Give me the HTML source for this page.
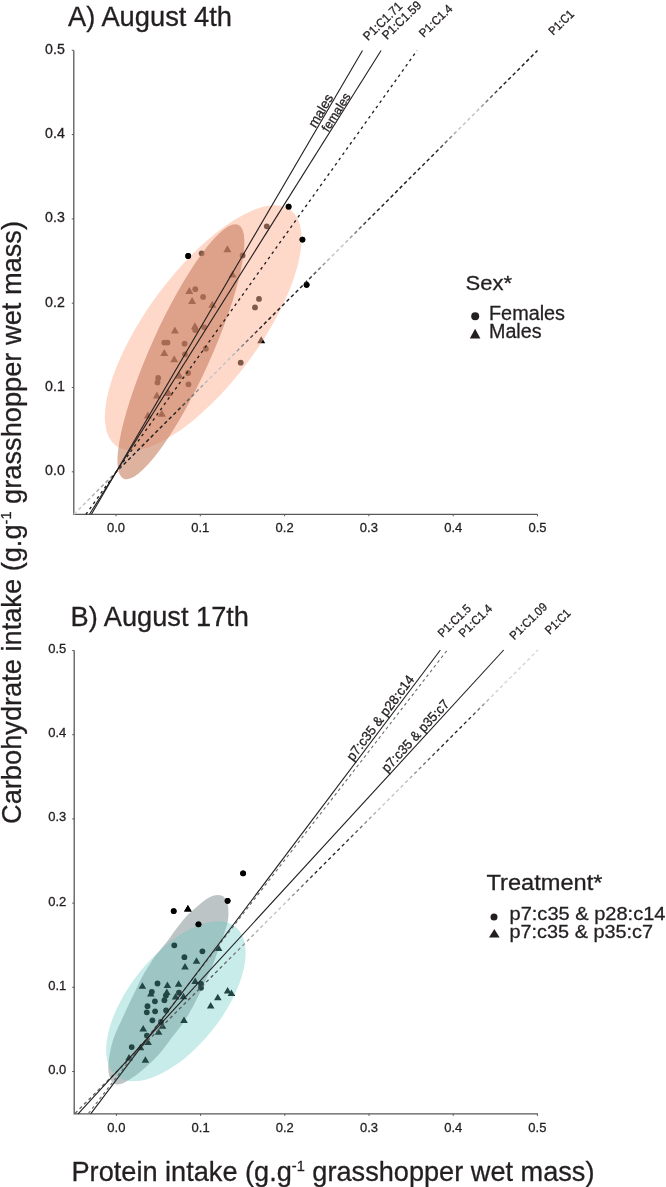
<!DOCTYPE html><html><head><meta charset="utf-8"><style>html,body{margin:0;padding:0;background:#fff;overflow:hidden}svg{display:block;will-change:transform}</style></head><body>
<svg width="666" height="1187" viewBox="0 0 666 1187" font-family='"Liberation Sans", sans-serif' fill="#231f20"><style>text{stroke:#231f20;stroke-width:0.3px}</style>
<text x="68" y="25.8" font-size="27" textLength="164" lengthAdjust="spacingAndGlyphs">A) August 4th</text>
<text x="70.5" y="625.7" font-size="27" textLength="178.5" lengthAdjust="spacingAndGlyphs">B) August 17th</text>
<circle cx="201.6" cy="253.4" r="2.9" fill="#000"/><circle cx="266.8" cy="226.3" r="2.9" fill="#000"/><circle cx="242.6" cy="255.5" r="2.9" fill="#000"/><circle cx="195.3" cy="289.2" r="2.9" fill="#000"/><circle cx="203.1" cy="296.9" r="2.9" fill="#000"/><circle cx="259" cy="298.9" r="2.9" fill="#000"/><circle cx="255" cy="307.4" r="2.9" fill="#000"/><circle cx="195.2" cy="330" r="2.9" fill="#000"/><circle cx="204.2" cy="327.3" r="2.9" fill="#000"/><circle cx="164.3" cy="342.6" r="2.9" fill="#000"/><circle cx="167.5" cy="342.6" r="2.9" fill="#000"/><circle cx="184.6" cy="343.7" r="2.9" fill="#000"/><circle cx="185" cy="354.3" r="2.9" fill="#000"/><circle cx="205.8" cy="348.7" r="2.9" fill="#000"/><circle cx="240.7" cy="362.7" r="2.9" fill="#000"/><circle cx="188.1" cy="373" r="2.9" fill="#000"/><circle cx="158.2" cy="378" r="2.9" fill="#000"/><circle cx="157.5" cy="382.5" r="2.9" fill="#000"/><circle cx="188.5" cy="384.3" r="2.9" fill="#000"/><circle cx="188.2" cy="256" r="2.9" fill="#000"/><circle cx="288.6" cy="206.7" r="2.9" fill="#000"/><circle cx="302.4" cy="239.6" r="2.9" fill="#000"/><circle cx="306.6" cy="284.8" r="2.9" fill="#000"/>
<path fill="#000" d="M223.4 252.2L227.4 245.2L231.4 252.2ZM228.5 277.5L232.5 270.5L236.5 277.5ZM185.3 293.9L189.3 286.9L193.3 293.9ZM188.1 304.1L192.1 297.1L196.1 304.1ZM208.3 307.7L212.3 300.7L216.3 307.7ZM170.9 333.5L174.9 326.5L178.9 333.5ZM190.9 329.3L194.9 322.3L198.9 329.3ZM160.3 356L164.3 349L168.3 356ZM170.2 362.3L174.2 355.3L178.2 362.3ZM257.2 343.2L261.2 336.2L265.2 343.2ZM175.5 378.8L179.5 371.8L183.5 378.8ZM152.9 398.6L156.9 391.6L160.9 398.6ZM164.6 395.9L168.6 388.9L172.6 395.9ZM143.9 418.5L147.9 411.5L151.9 418.5ZM157.8 416.7L161.8 409.7L165.8 416.7Z"/>
<ellipse cx="203.2" cy="327.8" rx="146.7" ry="56.3" transform="rotate(-53.46 203.2 327.8)" fill="#feb496" fill-opacity="0.5"/>
<ellipse cx="180.9" cy="351.7" rx="139.3" ry="29.9" transform="rotate(-65.7 180.9 351.7)" fill="#c27755" fill-opacity="0.56"/>
<circle cx="188.2" cy="256" r="2.9" fill="#000"/><circle cx="288.6" cy="206.7" r="2.9" fill="#000"/><circle cx="302.4" cy="239.6" r="2.9" fill="#000"/><circle cx="306.6" cy="284.8" r="2.9" fill="#000"/>
<path d="M218.7 894.9 C220.4 895.0 222.1 895.5 223.4 896.5 C224.6 897.4 225.7 898.9 226.4 900.5 C227.2 902.0 227.7 904.0 228.0 906.0 C228.3 908.0 228.4 910.1 228.4 912.1 C228.5 914.2 228.4 916.3 228.2 918.3 C228.0 920.3 227.7 922.1 227.1 924.3 C226.6 926.5 225.8 928.8 224.8 931.5 C223.9 934.2 222.6 937.6 221.6 940.6 C220.5 943.6 219.3 946.8 218.4 949.5 C217.4 952.1 216.7 954.3 215.9 956.5 C215.1 958.8 214.4 960.7 213.6 962.8 C212.8 964.8 211.8 966.9 210.9 969.0 C210.0 971.0 209.1 972.9 208.1 975.0 C207.1 977.1 206.2 979.1 205.1 981.5 C203.9 984.0 202.6 986.9 201.4 989.6 C200.1 992.2 198.9 995.0 197.6 997.5 C196.3 1000.0 195.2 1002.2 193.9 1004.7 C192.5 1007.2 191.1 1009.6 189.7 1012.2 C188.2 1014.8 186.6 1017.5 184.9 1020.0 C183.3 1022.6 181.5 1025.2 179.6 1027.8 C177.7 1030.3 175.7 1032.7 173.7 1035.2 C171.7 1037.7 169.8 1040.4 167.8 1043.0 C165.9 1045.5 164.0 1048.4 162.0 1050.8 C160.0 1053.2 158.0 1055.5 156.0 1057.5 C154.0 1059.6 152.0 1061.4 150.0 1063.3 C148.0 1065.2 146.0 1067.1 144.0 1068.8 C142.0 1070.6 139.9 1072.3 138.0 1073.7 C136.1 1075.1 134.3 1076.2 132.4 1077.4 C130.6 1078.7 129.0 1080.0 127.0 1081.1 C125.1 1082.2 122.8 1083.7 120.8 1084.1 C118.8 1084.6 116.6 1084.6 115.0 1083.9 C113.4 1083.3 112.2 1081.8 111.2 1080.4 C110.2 1078.9 109.6 1076.9 109.1 1075.0 C108.6 1073.0 108.4 1070.8 108.3 1068.6 C108.2 1066.4 108.4 1064.2 108.6 1061.9 C108.8 1059.5 109.2 1057.0 109.7 1054.3 C110.2 1051.7 110.7 1048.7 111.4 1046.0 C112.1 1043.4 112.8 1040.9 113.6 1038.5 C114.4 1036.2 115.3 1034.0 116.2 1031.8 C117.1 1029.6 118.0 1027.6 119.0 1025.5 C120.0 1023.3 121.1 1021.3 122.2 1018.8 C123.3 1016.3 124.6 1013.4 125.9 1010.5 C127.3 1007.6 128.7 1004.5 130.3 1001.3 C131.8 998.1 133.6 994.6 135.2 991.2 C136.9 987.7 138.7 983.7 140.2 980.6 C141.8 977.5 143.1 975.0 144.4 972.7 C145.7 970.5 146.8 968.9 148.0 967.0 C149.2 965.1 150.4 963.2 151.6 961.4 C152.8 959.6 153.8 958.0 155.2 956.1 C156.6 954.3 157.8 952.9 160.0 950.2 C162.2 947.5 165.3 943.7 168.4 939.7 C171.4 935.6 175.3 930.0 178.4 926.0 C181.5 922.0 184.2 918.6 186.9 915.7 C189.6 912.9 192.0 911.0 194.3 908.9 C196.7 906.8 198.9 904.9 201.0 903.2 C203.1 901.4 205.0 899.9 207.0 898.7 C209.0 897.4 211.1 896.4 213.0 895.7 C214.9 895.1 217.0 894.8 218.7 894.9Z" fill="#bcc4c5"/>
<circle cx="174.3" cy="945.3" r="2.9" fill="#000"/><circle cx="202.4" cy="951.3" r="2.9" fill="#000"/><circle cx="184.4" cy="957.2" r="2.9" fill="#000"/><circle cx="157.5" cy="983.5" r="2.9" fill="#000"/><circle cx="201" cy="984" r="2.9" fill="#000"/><circle cx="201" cy="987.8" r="2.9" fill="#000"/><circle cx="151.8" cy="991.8" r="2.9" fill="#000"/><circle cx="165.9" cy="995.6" r="2.9" fill="#000"/><circle cx="179" cy="992.7" r="2.9" fill="#000"/><circle cx="164.4" cy="1000.2" r="2.9" fill="#000"/><circle cx="154.9" cy="1001.3" r="2.9" fill="#000"/><circle cx="147.5" cy="1006.2" r="2.9" fill="#000"/><circle cx="146.8" cy="1012.3" r="2.9" fill="#000"/><circle cx="155.1" cy="1011.3" r="2.9" fill="#000"/><circle cx="166.1" cy="1010.5" r="2.9" fill="#000"/><circle cx="152.4" cy="1020.3" r="2.9" fill="#000"/><circle cx="161" cy="1022" r="2.9" fill="#000"/><circle cx="146.9" cy="1035.6" r="2.9" fill="#000"/><circle cx="131.7" cy="1047.1" r="2.9" fill="#000"/><circle cx="243.1" cy="873.3" r="2.9" fill="#000"/><circle cx="227.6" cy="900.8" r="2.9" fill="#000"/><circle cx="173.7" cy="911.1" r="2.9" fill="#000"/><circle cx="198.5" cy="924.3" r="2.9" fill="#000"/>
<path fill="#000" d="M214.8 950.9L218.6 944.4L222.4 950.9ZM192.7 963.8L196.5 957.2L200.3 963.8ZM181.2 969.6L185 963.1L188.8 969.6ZM138.6 988.8L142.4 982.2L146.2 988.8ZM163.6 988.1L167.4 981.6L171.2 988.1ZM174.8 986.8L178.6 980.2L182.4 986.8ZM191.4 984L195.2 977.5L199 984ZM147 996.5L150.8 990L154.6 996.5ZM163 995.1L166.8 988.6L170.6 995.1ZM171.8 999.6L175.6 993.1L179.4 999.6ZM179.7 999.2L183.5 992.8L187.3 999.2ZM223.8 993.6L227.6 987.1L231.4 993.6ZM227.6 996L231.4 989.5L235.2 996ZM214 1000.2L217.8 993.8L221.6 1000.2ZM206.9 1008.5L210.7 1002L214.5 1008.5ZM180.2 1022.9L184 1016.4L187.8 1022.9ZM139.4 1031.5L143.2 1025L147 1031.5ZM154.8 1034.8L158.6 1028.2L162.4 1034.8ZM158.7 1028.7L162.5 1022.2L166.3 1028.7ZM144.3 1045L148.1 1038.5L151.9 1045ZM136.7 1050.2L140.5 1043.8L144.3 1050.2ZM125.2 1060.5L129 1054L132.8 1060.5ZM141.6 1062.7L145.4 1056.2L149.2 1062.7ZM184.1 911.5L187.9 905L191.7 911.5Z"/>
<ellipse cx="175.9" cy="1001.3" rx="95.4" ry="46.5" transform="rotate(-51.36 175.9 1001.3)" fill="#62c8c3" fill-opacity="0.35"/>
<circle cx="243.1" cy="873.3" r="2.9" fill="#000"/><circle cx="227.6" cy="900.8" r="2.9" fill="#000"/><circle cx="173.7" cy="911.1" r="2.9" fill="#000"/><circle cx="198.5" cy="924.3" r="2.9" fill="#000"/>
<path fill="#000" d="M184.1 911.5L187.9 905L191.7 911.5Z"/>
<path d="M73.8 50.5V514.3H537.5" fill="none" stroke="#58595b" stroke-width="1.3"/>
<path d="M73.8 471.8h-2 M116 514.3v2 M73.8 387.5h-2 M200.3 514.3v2 M73.8 303.2h-2 M284.6 514.3v2 M73.8 218.9h-2 M368.9 514.3v2 M73.8 134.6h-2 M453.2 514.3v2 M73.8 50.3h-2 M537.5 514.3v2" stroke="#58595b" stroke-width="1"/>
<text x="64.8" y="475.1" font-size="14.2" text-anchor="end">0.0</text>
<text x="116" y="532.4" font-size="13" text-anchor="middle">0.0</text>
<text x="64.8" y="390.8" font-size="14.2" text-anchor="end">0.1</text>
<text x="200.3" y="532.4" font-size="13" text-anchor="middle">0.1</text>
<text x="64.8" y="306.5" font-size="14.2" text-anchor="end">0.2</text>
<text x="284.6" y="532.4" font-size="13" text-anchor="middle">0.2</text>
<text x="64.8" y="222.2" font-size="14.2" text-anchor="end">0.3</text>
<text x="368.9" y="532.4" font-size="13" text-anchor="middle">0.3</text>
<text x="64.8" y="137.9" font-size="14.2" text-anchor="end">0.4</text>
<text x="453.2" y="532.4" font-size="13" text-anchor="middle">0.4</text>
<text x="64.8" y="53.6" font-size="14.2" text-anchor="end">0.5</text>
<text x="537.5" y="532.4" font-size="13" text-anchor="middle">0.5</text>
<path d="M74.2 650.5V1113.9H538" fill="none" stroke="#58595b" stroke-width="1.3"/>
<path d="M74.2 1071.5h-2 M116.4 1113.9v2 M74.2 987.3h-2 M200.6 1113.9v2 M74.2 903.1h-2 M284.8 1113.9v2 M74.2 818.9h-2 M369 1113.9v2 M74.2 734.7h-2 M453.2 1113.9v2 M74.2 650.5h-2 M537.4 1113.9v2" stroke="#58595b" stroke-width="1"/>
<text x="66.3" y="1074" font-size="13" text-anchor="end">0.0</text>
<text x="116.4" y="1132" font-size="13" text-anchor="middle">0.0</text>
<text x="66.3" y="989.8" font-size="13" text-anchor="end">0.1</text>
<text x="200.6" y="1132" font-size="13" text-anchor="middle">0.1</text>
<text x="66.3" y="905.6" font-size="13" text-anchor="end">0.2</text>
<text x="284.8" y="1132" font-size="13" text-anchor="middle">0.2</text>
<text x="66.3" y="821.4" font-size="13" text-anchor="end">0.3</text>
<text x="369" y="1132" font-size="13" text-anchor="middle">0.3</text>
<text x="66.3" y="737.2" font-size="13" text-anchor="end">0.4</text>
<text x="453.2" y="1132" font-size="13" text-anchor="middle">0.4</text>
<text x="66.3" y="653" font-size="13" text-anchor="end">0.5</text>
<text x="537.4" y="1132" font-size="13" text-anchor="middle">0.5</text>
<defs>
<linearGradient id="ga1" gradientUnits="userSpaceOnUse" x1="73.9" y1="514.3" x2="537.5" y2="50.5"><stop offset="0" stop-color="#d0d0d0"/><stop offset="0.08" stop-color="#9a9a9a"/><stop offset="0.11" stop-color="#231f20"/><stop offset="0.22" stop-color="#231f20"/><stop offset="0.29" stop-color="#c4c4c4"/><stop offset="0.34" stop-color="#c4c4c4"/><stop offset="0.4" stop-color="#231f20"/><stop offset="0.5" stop-color="#231f20"/><stop offset="0.555" stop-color="#c4c4c4"/><stop offset="0.585" stop-color="#c4c4c4"/><stop offset="0.64" stop-color="#231f20"/><stop offset="0.78" stop-color="#231f20"/><stop offset="0.83" stop-color="#c4c4c4"/><stop offset="0.87" stop-color="#c4c4c4"/><stop offset="0.92" stop-color="#231f20"/><stop offset="1" stop-color="#231f20"/></linearGradient>
<linearGradient id="gb1" gradientUnits="userSpaceOnUse" x1="75" y1="1113.4" x2="538" y2="650"><stop offset="0" stop-color="#666"/><stop offset="0.3" stop-color="#555"/><stop offset="0.42" stop-color="#c4c4c4"/><stop offset="0.45" stop-color="#c4c4c4"/><stop offset="0.52" stop-color="#231f20"/><stop offset="0.58" stop-color="#231f20"/><stop offset="0.66" stop-color="#c4c4c4"/><stop offset="0.71" stop-color="#c4c4c4"/><stop offset="0.79" stop-color="#231f20"/><stop offset="0.85" stop-color="#231f20"/><stop offset="0.9" stop-color="#cfcfcf"/><stop offset="1" stop-color="#d4d4d4"/></linearGradient>
</defs>
<path d="M73.9 514.3L537.5 50.5" stroke="url(#ga1)" stroke-width="1.5" stroke-dasharray="3.6 2.8" fill="none"/>
<line x1="85.9" y1="514.3" x2="417.1" y2="50.5" stroke="#231f20" stroke-width="1.35" stroke-dasharray="2.8 3.6"/>
<line x1="89.5" y1="514.3" x2="381.1" y2="50.5" stroke="#231f20" stroke-width="1.1"/>
<line x1="91.4" y1="514.3" x2="362.5" y2="50.5" stroke="#231f20" stroke-width="1.1"/>
<path d="M75 1113.4L538 650" stroke="url(#gb1)" stroke-width="1.35" stroke-dasharray="3.4 3" fill="none"/>
<line x1="88.5" y1="1113.4" x2="446.8" y2="650.7" stroke="#6a6a6a" stroke-width="1.1" stroke-dasharray="3 3"/>
<line x1="78.1" y1="1113.9" x2="503.7" y2="650" stroke="#231f20" stroke-width="1.1"/>
<line x1="90.7" y1="1113.9" x2="440.4" y2="650" stroke="#231f20" stroke-width="1.1"/>
<text transform="translate(368 41.3) rotate(-44)" font-size="12.5" textLength="49" lengthAdjust="spacingAndGlyphs">P1:C1.71</text>
<text transform="translate(386.9 40.3) rotate(-44)" font-size="12.5" textLength="49" lengthAdjust="spacingAndGlyphs">P1:C1.59</text>
<text transform="translate(423.7 38.1) rotate(-44)" font-size="12" textLength="41" lengthAdjust="spacingAndGlyphs">P1:C1.4</text>
<text transform="translate(553.2 35.8) rotate(-44)" font-size="12" textLength="30" lengthAdjust="spacingAndGlyphs">P1:C1</text>
<text transform="translate(442.4 637.9) rotate(-44)" font-size="12" textLength="41" lengthAdjust="spacingAndGlyphs">P1:C1.5</text>
<text transform="translate(463.5 637.9) rotate(-44)" font-size="12" textLength="41" lengthAdjust="spacingAndGlyphs">P1:C1.4</text>
<text transform="translate(514.3 640.4) rotate(-44)" font-size="12" textLength="47" lengthAdjust="spacingAndGlyphs">P1:C1.09</text>
<text transform="translate(549.8 635) rotate(-44)" font-size="12" textLength="30" lengthAdjust="spacingAndGlyphs">P1:C1</text>
<text transform="translate(315.6 128.6) rotate(-59.7)" font-size="13.5" textLength="36" lengthAdjust="spacingAndGlyphs">males</text>
<text transform="translate(328.2 132.7) rotate(-57.8)" font-size="12.5" textLength="43" lengthAdjust="spacingAndGlyphs">females</text>
<text transform="translate(352.9 761.8) rotate(-53)" font-size="13.5" textLength="103" lengthAdjust="spacingAndGlyphs">p7:c35 &amp; p28:c14</text>
<text transform="translate(387.2 773.2) rotate(-47.5)" font-size="13.5" textLength="93" lengthAdjust="spacingAndGlyphs">p7:c35 &amp; p35:c7</text>
<text transform="translate(21 824) rotate(-90)" font-size="28" textLength="603" lengthAdjust="spacingAndGlyphs">Carbohydrate intake (g.g<tspan font-size="15" dy="-10.5">-1</tspan><tspan dy="10.5"> grasshopper wet mass)</tspan></text>
<text x="71.5" y="1181" font-size="28" textLength="523" lengthAdjust="spacingAndGlyphs">Protein intake (g.g<tspan font-size="15" dy="-10.5">-1</tspan><tspan dy="10.5"> grasshopper wet mass)</tspan></text>
<text x="465.5" y="290.4" font-size="20.4" textLength="46.5" lengthAdjust="spacingAndGlyphs">Sex*</text>
<circle cx="475.2" cy="316.3" r="4"/>
<text x="489" y="320.4" font-size="20" textLength="76" lengthAdjust="spacingAndGlyphs">Females</text>
<path d="M469.8 338.4L475.1 328.7L480.4 338.4Z"/>
<text x="489" y="338.4" font-size="20" textLength="52.5" lengthAdjust="spacingAndGlyphs">Males</text>
<text x="486.5" y="890.3" font-size="21.5" textLength="116" lengthAdjust="spacingAndGlyphs">Treatment*</text>
<circle cx="494" cy="917" r="3.5"/>
<text x="509.5" y="919.8" font-size="19" textLength="156" lengthAdjust="spacingAndGlyphs">p7:c35 &amp; p28:c14</text>
<path d="M489 937.5L494.3 929L499.6 937.5Z"/>
<text x="509.5" y="937.7" font-size="19" textLength="143.5" lengthAdjust="spacingAndGlyphs">p7:c35 &amp; p35:c7</text>
</svg></body></html>
